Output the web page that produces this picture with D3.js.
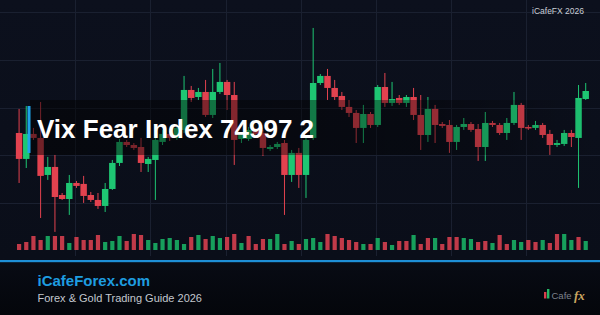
<!DOCTYPE html>
<html><head><meta charset="utf-8">
<script src="https://cdn.jsdelivr.net/npm/d3@7/dist/d3.min.js"></script>
<style>html,body{margin:0;padding:0;background:#0c101c;}svg{display:block;}</style>
</head><body><svg id="c" width="600" height="315"></svg>
<script>
const titleText = "Vix Fear Index 74997 2";
const brandText = "iCafeForex.com";
const subText = "Forex & Gold Trading Guide 2026";
const cornerText = "iCafeFX 2026";
const priceTicks = [5, 10, 15, 20, 25];
const timeTicks = [1, 2, 3, 4, 5, 6, 7];

const opens = [12.35,9.63,12.25,11.83,7.95,8.79,5.85,5.43,7.11,7.01,5.85,5.33,4.70,6.48,9.21,11.41,11.09,10.88,9.10,9.52,11.41,12.25,11.83,12.67,16.86,16.12,16.65,14.24,16.65,17.70,16.33,11.72,11.72,12.67,12.35,10.67,10.88,11.30,7.95,10.26,7.95,11.83,17.59,18.33,17.07,16.23,15.08,14.45,12.88,14.34,13.19,17.17,15.50,16.02,15.50,16.12,14.24,12.14,14.87,13.29,13.19,11.41,12.98,13.29,12.77,10.88,13.40,13.19,12.35,13.40,15.29,12.98,12.88,13.19,12.25,11.09,11.20,12.35,11.83,15.91];
const closes = [9.63,12.25,11.83,7.85,8.79,5.64,5.43,7.11,6.80,5.75,5.33,4.70,6.48,9.21,11.41,11.09,10.78,9.21,9.63,11.62,12.25,11.83,12.88,16.86,16.02,16.65,14.24,16.65,17.70,16.33,11.62,12.14,12.67,12.25,10.78,10.88,11.20,7.95,10.26,7.95,11.62,17.59,18.33,17.07,16.12,15.08,14.45,12.88,14.34,13.19,17.17,15.50,15.91,15.50,16.12,14.24,12.14,14.87,13.19,13.09,11.41,12.98,13.29,12.67,10.88,13.40,13.19,12.35,13.40,15.29,12.88,12.88,13.19,12.14,11.09,11.30,12.35,11.93,16.02,16.75];
const highs = [14.87,15.18,12.88,15.60,9.84,10.05,6.06,7.95,7.32,7.85,6.17,6.06,7.11,9.52,11.72,11.62,11.30,11.83,9.84,12.14,12.67,12.56,13.19,18.33,17.28,17.07,17.91,19.06,19.69,17.91,17.70,12.35,12.98,12.88,12.67,11.09,11.41,11.62,10.57,10.78,12.14,23.36,18.53,19.06,17.91,16.65,15.81,14.76,15.29,14.55,17.38,18.64,17.70,16.33,16.33,17.07,16.33,16.12,15.29,13.50,13.71,13.19,13.92,13.50,13.29,14.55,13.61,13.40,13.92,16.65,15.50,13.19,13.61,13.40,12.67,11.62,12.67,12.67,17.38,17.59];
const lows = [7.11,8.68,11.62,3.44,7.43,1.98,5.33,3.76,6.59,5.02,5.12,4.39,4.07,6.38,8.89,10.88,10.57,8.26,8.26,5.33,11.09,11.51,11.62,12.35,15.60,15.81,14.03,13.92,16.44,14.76,9.00,11.30,11.51,11.93,9.94,10.47,10.67,3.76,7.22,6.59,5.54,11.62,17.38,15.81,15.81,14.76,14.03,11.30,11.30,12.88,12.98,15.08,15.18,15.29,15.08,13.71,10.57,11.41,11.30,12.88,10.26,10.57,12.67,12.46,9.42,9.42,12.98,12.14,11.62,13.19,11.62,12.67,12.67,11.83,10.05,10.88,10.99,10.88,6.59,15.81];
const volumes = [60,80,140,100,140,140,140,70,130,100,100,150,80,90,140,90,160,150,100,70,110,120,100,60,130,150,
  110,140,120,130,160,70,140,60,110,110,160,60,90,60,110,120,80,160,140,120,100,80,60,60,120,80,50,90,
  90,150,60,120,120,60,130,130,120,110,80,90,70,150,60,100,80,100,80,100,70,160,160,100,130,90];
const volDir = ["d","d","d","d","u","d","d","u","d","d","d","d","u","u","u","d","d","d","u","u","u","u","u","u","d","u",
  "d","u","u","d","d","u","d","d","d","u","u","d","u","d","u","u","u","d","d","d","d","d","u","d","u","d","u","d",
  "d","u","d","d","u","d","d","d","u","u","d","d","u","d","d","u","u","d","d","u","d","d","u","u","d","u"];

const W = 600, H = 315;
const UP = "#1ec673", DOWN = "#e2424f";
const VUP = "#179f5c", VDOWN = "#c13a49";
const svg = d3.select("#c");
const defs = svg.append("defs");

const bgG = defs.append("linearGradient").attr("id","bg").attr("x1",0).attr("y1",0).attr("x2",0).attr("y2",1);
bgG.append("stop").attr("offset","0%").attr("stop-color","#0c101d");
bgG.append("stop").attr("offset","100%").attr("stop-color","#0a0e19");
const ftG = defs.append("linearGradient").attr("id","ft").attr("x1",0).attr("y1",0).attr("x2",0).attr("y2",1);
ftG.append("stop").attr("offset","0%").attr("stop-color","#080b14");
ftG.append("stop").attr("offset","100%").attr("stop-color","#04060b");
const bandG = defs.append("linearGradient").attr("id","band").attr("x1",0).attr("y1",0).attr("x2",1).attr("y2",0);
bandG.append("stop").attr("offset","0%").attr("stop-color","#000").attr("stop-opacity",0.5);
bandG.append("stop").attr("offset","70%").attr("stop-color","#000").attr("stop-opacity",0.35);
bandG.append("stop").attr("offset","100%").attr("stop-color","#000").attr("stop-opacity",0.0);

svg.append("rect").attr("width",W).attr("height",262).attr("fill","url(#bg)");
svg.append("rect").attr("y",262).attr("width",W).attr("height",H-262).attr("fill","url(#ft)");

const idx = d3.range(opens.length);
const x = d3.scaleBand().domain(idx).range([15.5, 589.3]).paddingInner(0.1).paddingOuter(0.05);
const y = d3.scaleLinear().domain([0, 25]).range([250.8, 12.3]);
const v = d3.scaleLinear().domain([0, 160]).range([250, 234]);
const gx = d3.scaleLinear().domain([0, 8]).range([0, 601.6]);

// grid
const grid = svg.append("g").attr("stroke","#1a2030").attr("stroke-width",1);
grid.selectAll("line.h").data(priceTicks).join("line").attr("class","h")
  .attr("x1",0).attr("x2",W).attr("y1",d=>Math.round(y(d))+0.5).attr("y2",d=>Math.round(y(d))+0.5);
grid.selectAll("line.v").data(timeTicks).join("line").attr("class","v")
  .attr("y1",0).attr("y2",256).attr("x1",d=>Math.round(gx(d))+0.5).attr("x2",d=>Math.round(gx(d))+0.5);

// candles
const cx = i => x(i) + x.bandwidth()/2;
const col = i => closes[i] >= opens[i] ? UP : DOWN;
const cg = svg.append("g");
cg.selectAll("line").data(idx).join("line")
  .attr("x1",i=>cx(i)).attr("x2",i=>cx(i))
  .attr("y1",i=>y(highs[i])).attr("y2",i=>y(lows[i]))
  .attr("stroke",col).attr("stroke-width",1);
cg.selectAll("rect").data(idx).join("rect")
  .attr("x",i=>x(i)).attr("width",x.bandwidth())
  .attr("y",i=>y(Math.max(opens[i],closes[i])))
  .attr("height",i=>Math.max(1.5, Math.abs(y(opens[i])-y(closes[i]))))
  .attr("fill",col);

// volume
svg.append("g").selectAll("rect").data(idx).join("rect")
  .attr("x",i=>cx(i)-2.1).attr("width",4.2)
  .attr("y",i=>v(volumes[i])).attr("height",i=>v(0)-v(volumes[i]))
  .attr("fill",i=>volDir[i]==="u"?VUP:VDOWN);

// title band
svg.append("rect").attr("x",30).attr("y",100).attr("width",W-30).attr("height",55).attr("fill","url(#band)");
svg.append("rect").attr("x",27.5).attr("y",106).attr("width",3).attr("height",47).attr("fill","#1ea3ea");
svg.append("text").attr("x",37).attr("y",137.5).text(titleText)
  .attr("fill","#ffffff").attr("font-family","'Liberation Sans', Arial, sans-serif")
  .attr("font-weight","bold").attr("font-size",26);

// top right
svg.append("text").attr("x",584).attr("y",14).attr("text-anchor","end").text(cornerText)
  .attr("fill","#c9cdd5").attr("font-family","'Liberation Sans', Arial, sans-serif").attr("font-size",8.5);

// footer line
svg.append("rect").attr("x",0).attr("y",260).attr("width",W).attr("height",2.2).attr("fill","#1e8fd6");
svg.append("text").attr("x",37.5).attr("y",286).text(brandText)
  .attr("fill","#1e9de0").attr("font-family","'Liberation Sans', Arial, sans-serif")
  .attr("font-weight","bold").attr("font-size",15);
svg.append("text").attr("x",37.5).attr("y",301.5).text(subText)
  .attr("fill","#c3c7ce").attr("font-family","'Liberation Sans', Arial, sans-serif").attr("font-size",11);

// logo
const logo = svg.append("g");
logo.append("rect").attr("x",544).attr("y",292).attr("width",2.4).attr("height",6.5).attr("fill","#d8404c");
logo.append("rect").attr("x",547).attr("y",289).attr("width",2.4).attr("height",9.5).attr("fill","#24b866");
logo.append("text").attr("x",551.5).attr("y",299).text("Cafe")
  .attr("fill","#7d828c").attr("font-family","'Liberation Sans', Arial, sans-serif").attr("font-size",9.5).attr("font-weight",300);
logo.append("text").attr("x",574).attr("y",299.5).text("fx")
  .attr("fill","#c9a560").attr("font-family","'Liberation Serif', serif").attr("font-style","italic").attr("font-weight","bold").attr("font-size",13);
</script></body></html>
